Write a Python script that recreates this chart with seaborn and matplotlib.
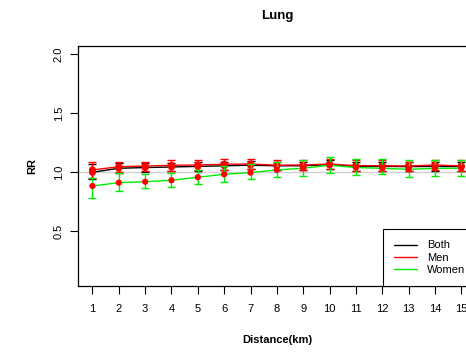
import numpy as np
import pandas as pd
import matplotlib
matplotlib.use("Agg")
import matplotlib.pyplot as plt
import seaborn as sns

# distance bands (km)
distance = list(range(1, 16))

# relative risk with 95% CI
both_rr = [1.00, 1.034, 1.040, 1.045, 1.050, 1.055, 1.060, 1.055, 1.055, 1.065, 1.050, 1.050, 1.048, 1.050, 1.048]
both_lo = [0.94, 0.995, 1.005, 1.010, 1.015, 1.020, 1.025, 1.020, 1.020, 1.030, 1.015, 1.015, 1.013, 1.015, 1.013]
both_hi = [1.07, 1.075, 1.078, 1.082, 1.085, 1.090, 1.095, 1.090, 1.090, 1.100, 1.085, 1.085, 1.083, 1.085, 1.083]

men_rr = [1.020, 1.047, 1.053, 1.059, 1.062, 1.068, 1.070, 1.060, 1.062, 1.070, 1.056, 1.056, 1.053, 1.062, 1.053]
men_lo = [0.95, 1.00, 1.01, 1.01, 1.02, 1.02, 1.03, 1.02, 1.02, 1.03, 1.01, 1.01, 1.01, 1.02, 1.01]
men_hi = [1.09, 1.09, 1.09, 1.10, 1.10, 1.11, 1.11, 1.10, 1.10, 1.11, 1.10, 1.10, 1.09, 1.10, 1.10]

women_rr = [0.884, 0.912, 0.920, 0.932, 0.958, 0.983, 0.997, 1.020, 1.034, 1.060, 1.040, 1.034, 1.025, 1.034, 1.034]
women_lo = [0.785, 0.844, 0.864, 0.878, 0.900, 0.920, 0.940, 0.958, 0.970, 0.990, 0.975, 0.983, 0.963, 0.970, 0.970]
women_hi = [0.950, 0.990, 0.985, 0.990, 1.020, 1.050, 1.070, 1.085, 1.100, 1.127, 1.110, 1.110, 1.100, 1.100, 1.100]

groups = ["Both", "Men", "Women"]
colors = {"Both": "black", "Men": "#FF0000", "Women": "#00EE00"}

df = pd.concat([
    pd.DataFrame({"dist": distance, "rr": both_rr, "lo": both_lo, "hi": both_hi, "group": "Both"}),
    pd.DataFrame({"dist": distance, "rr": men_rr, "lo": men_lo, "hi": men_hi, "group": "Men"}),
    pd.DataFrame({"dist": distance, "rr": women_rr, "lo": women_lo, "hi": women_hi, "group": "Women"}),
])

sns.set_style("white")
plt.rcParams["font.family"] = ["Liberation Sans", "DejaVu Sans"]
plt.rcParams.update({"text.color": "black", "axes.labelcolor": "black",
                     "xtick.color": "black", "ytick.color": "black"})

fig = plt.figure(figsize=(4.66, 3.54), dpi=100)
# plot region runs past the right edge, like the original
ax = fig.add_axes([77.7 / 466, 68 / 354, 398.3 / 466, 240.3 / 354])

ax.axhline(1.0, color="#d0d0d0", lw=1, zorder=1)

for i, g in enumerate(groups):
    d = df[df["group"] == g]
    z = 2 + i * 3
    sns.lineplot(data=d, x="dist", y="rr", color=colors[g], lw=1, ax=ax,
                 zorder=z, label=g, legend=False)
    ax.errorbar(d["dist"], d["rr"], yerr=[d["rr"] - d["lo"], d["hi"] - d["rr"]],
                fmt="none", ecolor=colors[g], elinewidth=1, capsize=2.9,
                capthick=1, zorder=z + 1)
    sns.scatterplot(data=d, x="dist", y="rr", color="#FF0000", s=26 if g != "Women" else 20,
                    edgecolor="none", ax=ax, zorder=z + 2, legend=False)

ax.set_xlim(0.44, 15.56)
ax.set_ylim(0.036, 2.073)
ax.set_xticks(distance)
ax.set_yticks([0.5, 1.0, 1.5, 2.0])
ax.set_yticklabels(["0.5", "1.0", "1.5", "2.0"], rotation=90, va="center")
ax.tick_params(axis="both", direction="out", length=6, width=0.8, color="black",
               labelsize=8, left=True, bottom=True)
ax.tick_params(axis="x", pad=7)
ax.tick_params(axis="y", pad=4)
for s in ax.spines.values():
    s.set_color("black")
    s.set_linewidth(0.9)

ax.set_title("Lung", fontsize=9.5, fontweight="bold", pad=19)
ax.set_xlabel("Distance(km)", fontsize=8, fontweight="bold", labelpad=15)
ax.set_ylabel("RR", fontsize=8, fontweight="bold", labelpad=12)

leg = ax.legend(loc="lower right", bbox_to_anchor=(1, 0), borderaxespad=0,
                fontsize=8, handlelength=2.0, handletextpad=0.9, borderpad=1.0,
                labelspacing=0.2, fancybox=False, framealpha=1, edgecolor="black")
leg.get_frame().set_linewidth(0.8)

fig.savefig("out.png", dpi=100)
